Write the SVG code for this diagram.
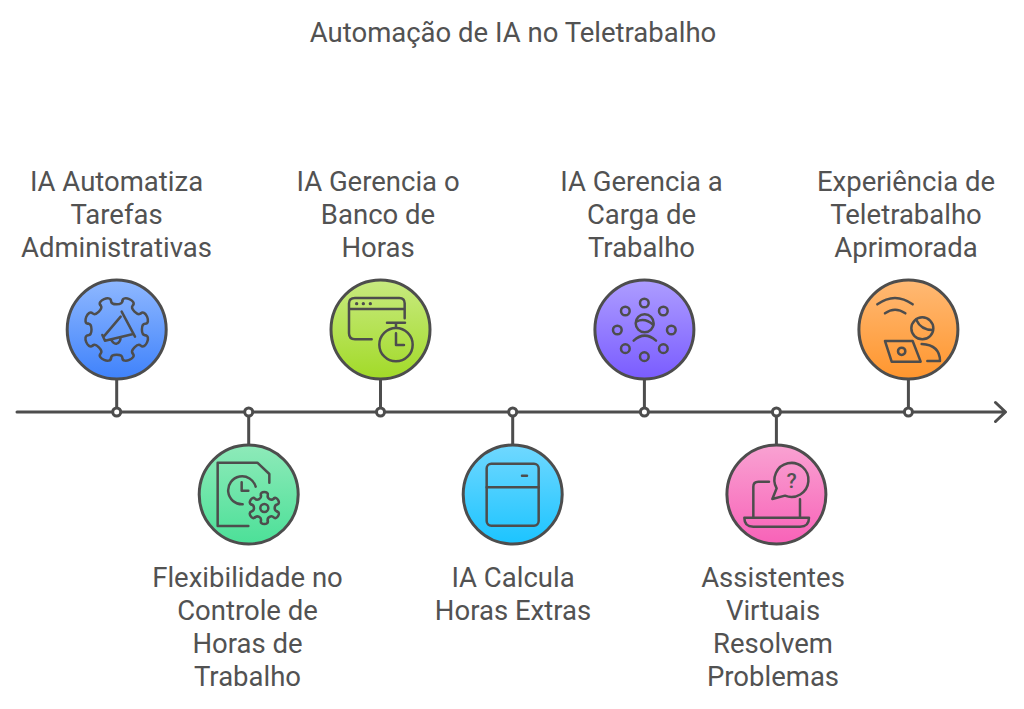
<svg xmlns="http://www.w3.org/2000/svg" width="1024" height="709" viewBox="0 0 1024 709">
<style>
text{font-family:Roboto,"Liberation Sans",sans-serif;font-size:27.5px;fill:#525252;text-anchor:middle}
.ln{fill:none;stroke:#4d4d4d;stroke-width:3;stroke-linecap:round;stroke-linejoin:round}
.c{stroke:#4d4d4d;stroke-width:3}
.d{fill:#fff;stroke:#4d4d4d;stroke-width:3}
.i{fill:none;stroke:#4d4d4d;stroke-width:7.5;stroke-linecap:round;stroke-linejoin:round}
.f{fill:#4d4d4d;stroke:none}
</style>
<defs>
<linearGradient id="g1" x1="0" y1="0" x2="0" y2="1"><stop offset="0" stop-color="#8fb8ff"/><stop offset="1" stop-color="#3f82fb"/></linearGradient>
<linearGradient id="g2" x1="0" y1="0" x2="0" y2="1"><stop offset="0" stop-color="#8eeab9"/><stop offset="1" stop-color="#4ce098"/></linearGradient>
<linearGradient id="g3" x1="0" y1="0" x2="0" y2="1"><stop offset="0" stop-color="#c8ea80"/><stop offset="1" stop-color="#a2da28"/></linearGradient>
<linearGradient id="g4" x1="0" y1="0" x2="0" y2="1"><stop offset="0" stop-color="#70d8ff"/><stop offset="1" stop-color="#1cc4ff"/></linearGradient>
<linearGradient id="g5" x1="0" y1="0" x2="0" y2="1"><stop offset="0" stop-color="#ad9dff"/><stop offset="1" stop-color="#7a5cff"/></linearGradient>
<linearGradient id="g6" x1="0" y1="0" x2="0" y2="1"><stop offset="0" stop-color="#f9a2d2"/><stop offset="1" stop-color="#f862b8"/></linearGradient>
<linearGradient id="g7" x1="0" y1="0" x2="0" y2="1"><stop offset="0" stop-color="#ffb974"/><stop offset="1" stop-color="#ff962e"/></linearGradient>
<path id="big" d="M28.400 -5.660C34.500 -8 34.500 8 28.400 5.660C24.400 4.200 20.200 14.300 24.100 16.100"/>
<path id="small" d="M38.600 -10.350C51 -14 51 14 38.600 10.350C28.600 7.350 20.700 21.100 28.300 28.300"/>
</defs>
<text id="title" x="513" y="42">Automação de IA no Teletrabalho</text>
<g id="connectors">
<path class="ln" d="M17 412H1005M995.500 402.500L1005.500 412L995.500 421.500"/>
<path class="ln" d="M116.700 380V412M248.700 412V444M380.500 380V412M512.700 412V444M644.400 380V412M776.400 412V444M908.400 380V412"/>
<circle class="d" cx="116.700" cy="412" r="4"/>
<circle class="d" cx="248.700" cy="412" r="4"/>
<circle class="d" cx="380.500" cy="412" r="4"/>
<circle class="d" cx="512.700" cy="412" r="4"/>
<circle class="d" cx="644.400" cy="412" r="4"/>
<circle class="d" cx="776.400" cy="412" r="4"/>
<circle class="d" cx="908.400" cy="412" r="4"/>
</g>
<g id="n1">
<circle class="c" cx="116.700" cy="329.500" r="49.500" fill="url(#g1)"/>
<g transform="translate(116.700 329.500)" fill="none" stroke="#4d4d4d" stroke-width="2.500" stroke-linecap="round">
<use href="#big" transform="rotate(22.500)"/><use href="#big" transform="rotate(67.500)"/><use href="#big" transform="rotate(112.500)"/><use href="#big" transform="rotate(157.500)"/><use href="#big" transform="rotate(202.500)"/><use href="#big" transform="rotate(247.500)"/><use href="#big" transform="rotate(292.500)"/><use href="#big" transform="rotate(337.500)"/>
</g>
<g transform="translate(50 270) scale(.33333)" class="i">
<path d="M161 200L212 140M215 125L255 200M157 195L165 212M165 212L250 192M183 208Q190 223 200 221Q211 218 212 203"/>
</g>
</g>
<g id="n2">
<circle class="c" cx="248.700" cy="494.500" r="49.500" fill="url(#g2)"/>
<g transform="translate(50 270) scale(.33333)" class="i">
<path d="M595 768H503V578H622L658 612V638"/>
<path d="M578 703A42 42 0 1 1 617 650"/><path d="M575 637V662H595"/>
<circle cx="643" cy="714" r="12"/>
<g transform="translate(643 714)">
<use href="#small" transform="rotate(30)"/><use href="#small" transform="rotate(90)"/><use href="#small" transform="rotate(150)"/><use href="#small" transform="rotate(210)"/><use href="#small" transform="rotate(270)"/><use href="#small" transform="rotate(330)"/>
</g>
</g>
</g>
<g id="n3">
<circle class="c" cx="380.500" cy="329.500" r="49.500" fill="url(#g3)"/>
<g transform="translate(320 270) scale(.33333)" class="i">
<path d="M155 208H105Q87 208 87 190V100Q87 84 105 84H238Q254 84 254 100V145M87 117H254"/>
<circle class="f" cx="110" cy="101" r="5"/><circle class="f" cx="130" cy="101" r="5"/><circle class="f" cx="151" cy="101" r="5"/>
<circle cx="228" cy="224" r="50"/><path d="M201 158H255M228 158V173M228 190V225H252"/>
</g>
</g>
<g id="n4">
<circle class="c" cx="512.700" cy="494.500" r="49.500" fill="url(#g4)"/>
<g transform="translate(320 270) scale(.33333)" class="i">
<rect x="500" y="581" width="156" height="186" rx="14"/><path d="M500 652H656M606 617H621"/>
</g>
</g>
<g id="n5">
<circle class="c" cx="644.400" cy="329.500" r="49.500" fill="url(#g5)"/>
<g transform="translate(585 270) scale(.33333)" class="i">
<circle cx="178" cy="99" r="13"/><circle cx="235" cy="123" r="13"/><circle cx="259" cy="180" r="13"/><circle cx="235" cy="236" r="13"/><circle cx="178" cy="260" r="13"/><circle cx="121" cy="236" r="13"/><circle cx="97" cy="180" r="13"/><circle cx="121" cy="123" r="13"/>
<circle cx="179" cy="160" r="27"/><path d="M154 155Q180 142 205 165M146 212Q179 182 213 212"/>
</g>
</g>
<g id="n6">
<circle class="c" cx="776.400" cy="494.500" r="49.500" fill="url(#g6)"/>
<g transform="translate(585 270) scale(.33333)" class="i">
<path d="M562 687L575 655A51 51 0 1 1 600 677Z"/>
<path d="M552 635H520Q505 635 505 650V742M645 688V742M478 743H672Q672 770 645 770H505Q478 770 478 743Z"/>
</g>
<text x="791.700" y="487.500" style="font-size:21px;font-weight:500">?</text>
</g>
<g id="n7">
<circle class="c" cx="908.400" cy="329.500" r="49.500" fill="url(#g7)"/>
<g transform="translate(845 270) scale(.33333)" class="i">
<path d="M97 103Q150 65 203 103M120 130Q150 108 181 130"/>
<circle cx="232" cy="175" r="33"/><path d="M214 150Q228 180 263 180"/>
<path d="M120 213H203L227 275H140Z"/><circle cx="170" cy="244" r="11"/>
<path d="M230 222Q285 225 285 273H247"/>
</g>
</g>
<g id="labels">
<text x="116.500" y="191">IA Automatiza</text><text x="116.500" y="224">Tarefas</text><text x="116.500" y="257">Administrativas</text>
<text x="247.500" y="587">Flexibilidade no</text><text x="247.500" y="620">Controle de</text><text x="247.500" y="653">Horas de</text><text x="247.500" y="686">Trabalho</text>
<text x="378" y="191">IA Gerencia o</text><text x="378" y="224">Banco de</text><text x="378" y="257">Horas</text>
<text x="513" y="587">IA Calcula</text><text x="513" y="620">Horas Extras</text>
<text x="641.500" y="191">IA Gerencia a</text><text x="641.500" y="224">Carga de</text><text x="641.500" y="257">Trabalho</text>
<text x="773" y="587">Assistentes</text><text x="773" y="620">Virtuais</text><text x="773" y="653">Resolvem</text><text x="773" y="686">Problemas</text>
<text x="906" y="191">Experiência de</text><text x="906" y="224">Teletrabalho</text><text x="906" y="257">Aprimorada</text>
</g>
</svg>
